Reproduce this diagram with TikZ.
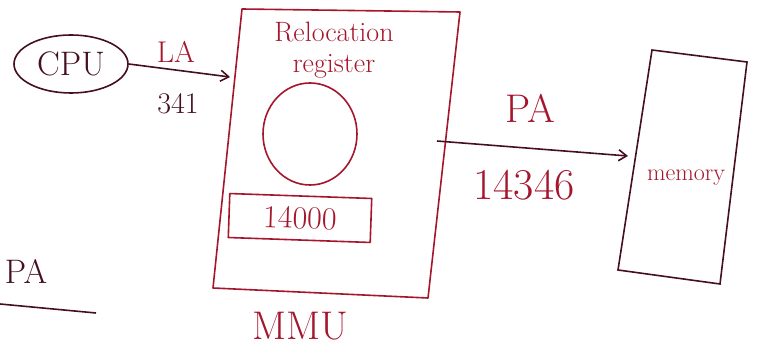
\documentclass[tikz,border=0pt]{standalone}
\usetikzlibrary{arrows.meta,shapes.geometric}
\definecolor{ink}{RGB}{165,22,45}
\definecolor{darkink}{RGB}{70,15,30}
\tikzset{
  pen/.style={draw=ink, line width=1.6pt, line join=round},
  darkpen/.style={draw=darkink, line width=1.6pt},
  lbl/.style={text=ink, inner sep=0pt},
  darklbl/.style={text=darkink, inner sep=0pt},
  fs/.style={font=\fontsize{#1}{#1}\selectfont},
  arr/.style={-{Straight Barb[length=8pt,width=11pt]}},
}
\begin{document}
\begin{tikzpicture}[x=1pt,y=-1pt]
\useasboundingbox (0,0) rectangle (758,352);
% CPU
\node[darkpen, ellipse, minimum width=114pt, minimum height=58pt, text=darkink, fs=34, inner sep=0pt] (cpu) at (71,64) {CPU};
% MMU outline
\coordinate (m1) at (242,9);
\coordinate (m2) at (460,12);
\coordinate (m3) at (428,298);
\coordinate (m4) at (213,288);
\draw[pen] (m1) -- (m2) -- (m3) -- (m4) -- cycle;
\coordinate (mmuin) at (230,77);
\coordinate (mmuout) at (437,141);
\node[lbl, align=center, font=\fontsize{28}{31}\selectfont] (regtxt) at (334,50) {Relocation\\register};
\node[pen, ellipse, minimum width=94pt, minimum height=102pt] (reg) at (310,134) {};
\node[pen, minimum width=142pt, minimum height=44pt, rotate=-2, lbl, fs=32] (base) at (300,218) {14000};
\node[lbl, fs=40] (mmulbl) at (300,326) {MMU};
% CPU -> MMU
\draw[darkpen, arr] (cpu.east) -- (mmuin);
\node[lbl, fs=30] (la) at (176,52) {LA};
\node[darklbl, fs=30] (la2) at (178,104) {341};
% Memory
\coordinate (e1) at (652,50);
\coordinate (e2) at (747,62);
\coordinate (e3) at (720,284);
\coordinate (e4) at (618,270);
\draw[darkpen] (e1) -- (e2) -- (e3) -- (e4) -- cycle;
\coordinate (memin) at (628,156);
\node[lbl, fs=24] (mem) at (686,178) {memory};
% MMU -> memory
\draw[darkpen, arr] (mmuout) -- (memin);
\node[lbl, fs=40] (pa) at (530,108) {PA};
\node[lbl, fs=44] (pa2) at (524,185) {14346};
% bottom-left PA
\node[darklbl, fs=34] (pa3) at (26,271) {PA};
\coordinate (u1) at (0,304);
\coordinate (u2) at (96,313);
\draw[darkpen] (u1) -- (u2);
\end{tikzpicture}
\end{document}
